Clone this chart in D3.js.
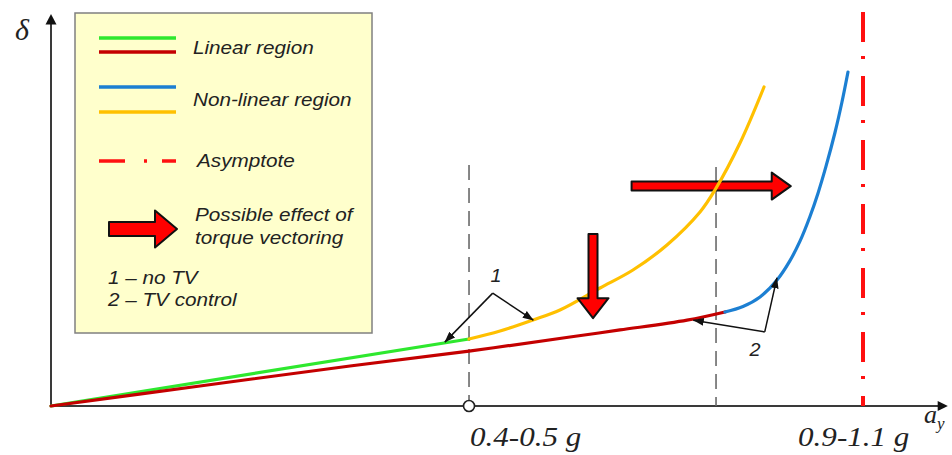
<!DOCTYPE html>
<html><head><meta charset="utf-8">
<script src="https://cdn.jsdelivr.net/npm/d3@7"></script>
<style>html,body{margin:0;padding:0;background:#fff;}svg{display:block;}</style>
</head><body>
<svg id="chart" width="952" height="455"></svg>
<script>
// ---- data (x in g, δ in arbitrary units 0..100) ----
const greenX = [0, 0.5148];
const greenY = [0, 17.09];
const redX = [0, 0.1835, 0.3682, 0.5148, 0.6392, 0.7007, 0.7833, 0.8300];
const redY = [0, 5.1, 10.2, 14.0, 17.6, 19.4, 21.9, 23.98];
const orangeX = [0.5148, 0.5530, 0.5936, 0.6268, 0.6761, 0.7167, 0.7586, 0.7993, 0.8177, 0.8485, 0.8781];
const orangeY = [17.09, 19.13, 21.94, 24.49, 30.10, 34.69, 41.07, 49.49, 55.10, 67.09, 81.38];
const blueX = [0.8300, 0.8522, 0.8732, 0.8941, 0.9101, 0.9224, 0.9347, 0.9446, 0.9544, 0.9655, 0.9741, 0.9815];
const blueY = [23.98, 25.38, 27.81, 32.14, 37.09, 42.04, 48.34, 54.29, 61.12, 69.77, 77.55, 85.20];
const markerX = [0.5148, 0.819];      // dashed guide lines
const markerTop = [61.5, 61.0];
const asymptoteX = 1.0;
const tickLabels = ["0.4-0.5 g", "0.9-1.1 g"];
const tickLabelX = [0.516, 0.920];
const legendLabels = ["Linear region", "Non-linear region", "Asymptote", "Possible effect of", "torque vectoring", "1 \u2013 no TV", "2 \u2013 TV control"];
const annLabels = ["1", "2"];
const annVertex = [[0.544, 28.8], [0.879, 18.9]];
const annTips = [[[0.485, 16.3], [0.594, 21.9]], [[0.791, 21.9], [0.894, 32.7]]];
const annLabelPos = [[0.548, 31.6], [0.867, 12.8]];
const bigArrows = [ // [tail, tip]
  [[0.715, 56.1], [0.911, 56.1]],
  [[0.6675, 43.9], [0.6675, 22.4]]
];

const svg = d3.select("#chart");
const x = d3.scaleLinear().domain([0, 1.1]).range([51, 944.2]);
const y = d3.scaleLinear().domain([0, 100]).range([406, 14]);

const C = {green:"#2ee82e", red:"#c40000", blue:"#1c7fd2", orange:"#ffc000", asym:"#ff1010", axis:"#3a3a3a"};

function stext(g, str, px, py, o) {
  const t = g.append("text")
    .attr("transform", `translate(${px},${py}) scale(${o.sx||1},1)`)
    .attr("font-family", o.family || "'Liberation Sans', Arial, sans-serif")
    .attr("font-style", o.style || "italic")
    .attr("font-size", o.size || 18)
    .attr("fill", o.fill || "#222")
    .attr("text-anchor", o.anchor || "start")
    .text(str);
  return t;
}

function blockArrow(x0, y0, x1, y1, hw, hh, hl) {
  const dx = x1 - x0, dy = y1 - y0, L = Math.hypot(dx, dy);
  const ux = dx / L, uy = dy / L, nx = -uy, ny = ux;
  const bx = x1 - ux * hl, by = y1 - uy * hl;
  const pts = [
    [x0 + nx*hw, y0 + ny*hw], [bx + nx*hw, by + ny*hw], [bx + nx*hh, by + ny*hh],
    [x1, y1],
    [bx - nx*hh, by - ny*hh], [bx - nx*hw, by - ny*hw], [x0 - nx*hw, y0 - ny*hw]
  ];
  return "M" + pts.map(p => p.join(",")).join("L") + "Z";
}

// defs
const defs = svg.append("defs");
defs.append("marker").attr("id","ah").attr("markerUnits","userSpaceOnUse")
  .attr("markerWidth",11).attr("markerHeight",8).attr("refX",10.5).attr("refY",4).attr("orient","auto")
  .append("path").attr("d","M0,0L11,4L0,8Z").attr("fill","#111");

// ---- legend box ----
const lg = svg.append("g");
lg.append("rect").attr("x",75).attr("y",13).attr("width",297).attr("height",320)
  .attr("fill","#ffffcc").attr("stroke","#808080").attr("stroke-width",1.5);
const legLines = [[38, C.green], [52, C.red], [87, C.blue], [112, C.orange]];
legLines.forEach(([ly, c]) => lg.append("line").attr("x1",99).attr("x2",176).attr("y1",ly).attr("y2",ly)
  .attr("stroke",c).attr("stroke-width",3.5));
lg.append("line").attr("x1",99).attr("x2",176).attr("y1",161).attr("y2",161)
  .attr("stroke",C.asym).attr("stroke-width",3.5).attr("stroke-dasharray","26,19,3,15,14,40");
lg.append("path").attr("d", blockArrow(109, 229, 177, 229, 7, 18.5, 22))
  .attr("fill","#ff0000").attr("stroke","#111").attr("stroke-width",2).attr("stroke-linejoin","round");
const legPos = [[193,54],[193,106],[197,167],[195,221],[195,244],[108,284],[108,306]];
legendLabels.forEach((s,i) => stext(lg, s, legPos[i][0], legPos[i][1], {size:18, sx:1.15}));

// ---- axes ----
const ax = svg.append("g");
ax.append("line").attr("x1",x(0)).attr("x2",x(0)).attr("y1",y(0)).attr("y2",y(97.5))
  .attr("stroke",C.axis).attr("stroke-width",2);
ax.append("path").attr("d",`M${x(0)},${y(100)}L${x(0)+5.5},${y(97.3)}L${x(0)-5.5},${y(97.3)}Z`).attr("fill","#111");
ax.append("line").attr("x1",x(0)).attr("x2",x(1.093)).attr("y1",y(0)).attr("y2",y(0))
  .attr("stroke",C.axis).attr("stroke-width",2);
ax.append("path").attr("d",`M${x(1.1045)},${y(0)}L${x(1.092)},${y(0)-5}L${x(1.092)},${y(0)+5}Z`).attr("fill","#111");

// dashed guides
markerX.forEach((mx,i) => svg.append("line").attr("x1",x(mx)).attr("x2",x(mx))
  .attr("y1",y(markerTop[i])).attr("y2",y(0))
  .attr("stroke","#6a6a6a").attr("stroke-width",1.6).attr("stroke-dasharray","15,8"));

// asymptote
svg.append("line").attr("x1",x(asymptoteX)).attr("x2",x(asymptoteX)).attr("y1",12).attr("y2",y(0))
  .attr("stroke",C.asym).attr("stroke-width",4).attr("stroke-dasharray","30,14,3,17");

// horizontal big arrow (under curves)
const a0 = bigArrows[0];
svg.append("path").attr("d", blockArrow(x(a0[0][0]), y(a0[0][1]), x(a0[1][0]), y(a0[1][1]), 4.5, 13.5, 19))
  .attr("fill","#ff0000").attr("stroke","#111").attr("stroke-width",2).attr("stroke-linejoin","round");

// curves
const zip = (X, Y) => X.map((v,i) => [v, Y[i]]);
const line = d3.line().x(d => x(d[0])).y(d => y(d[1])).curve(d3.curveCatmullRom.alpha(0.5));
[[greenX, greenY, C.green], [redX, redY, C.red], [orangeX, orangeY, C.orange], [blueX, blueY, C.blue]]
  .forEach(([X,Y,c]) => svg.append("path").attr("d", line(zip(X,Y))).attr("fill","none")
    .attr("stroke",c).attr("stroke-width",3.2).attr("stroke-linecap","round"));

// down big arrow (over curves)
const a1 = bigArrows[1];
svg.append("path").attr("d", blockArrow(x(a1[0][0]), y(a1[0][1]), x(a1[1][0]), y(a1[1][1]), 4.5, 15.5, 20))
  .attr("fill","#ff0000").attr("stroke","#111").attr("stroke-width",2).attr("stroke-linejoin","round");

// annotation arrows
annVertex.forEach((v,i) => {
  annTips[i].forEach(t => svg.append("line").attr("x1",x(v[0])).attr("y1",y(v[1]))
    .attr("x2",x(t[0])).attr("y2",y(t[1])).attr("stroke","#111").attr("stroke-width",1.5)
    .attr("marker-end","url(#ah)"));
  stext(svg, annLabels[i], x(annLabelPos[i][0]), y(annLabelPos[i][1]), {size:18, sx:1.1, anchor:"middle"});
});

// marker circle on the x axis
svg.append("circle").attr("cx",x(markerX[0])).attr("cy",y(0)).attr("r",5.5)
  .attr("fill","#fff").attr("stroke","#222").attr("stroke-width",1.6);

// tick labels
tickLabels.forEach((s,i) => stext(svg, s, x(tickLabelX[i]), 446,
  {family:"'Liberation Serif','Times New Roman',serif", size:28, sx:1.11, fill:"#222"}));

// axis titles
stext(svg, "\u03b4", 15, 40, {family:"'Liberation Serif','Times New Roman',serif", size:30, sx:1, fill:"#222"});
const at = svg.append("text").attr("x",924).attr("y",423)
  .attr("font-family","'Liberation Serif','Times New Roman',serif").attr("font-style","italic")
  .attr("font-size",26).attr("fill","#222");
at.append("tspan").text("a");
at.append("tspan").attr("dy",6).attr("font-size",17).text("y");
</script>
</body></html>
